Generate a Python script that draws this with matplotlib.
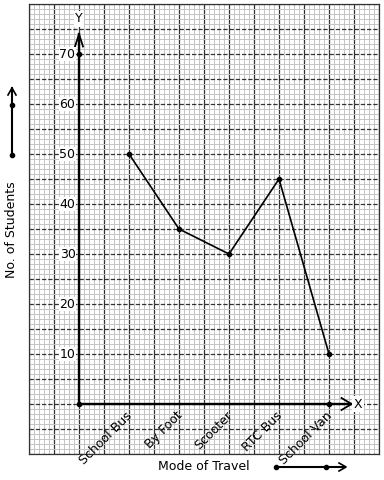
import numpy as np
import matplotlib
matplotlib.use('Agg')
import matplotlib.pyplot as plt

# data
modes = ['School Bus', 'By Foot', 'Scooter', 'RTC Bus', 'School Van']
students = [50, 35, 30, 45, 10]
y_ticks = [10, 20, 30, 40, 50, 60, 70]

fig = plt.figure(figsize=(3.84, 4.8), dpi=100)
W, H = 384, 480
ax = fig.add_axes([29 / W, 26 / H, 350 / W, 450 / H])
ax.set_xlim(-1, 6)
ax.set_ylim(-10, 80)

# graph paper
ax.set_xticks(np.arange(-1, 6.01, 0.5))
ax.set_xticks(np.arange(-1, 6.01, 0.1), minor=True)
ax.set_yticks(np.arange(-10, 80.1, 5))
ax.set_yticks(np.arange(-10, 80.1, 1), minor=True)
ax.grid(which='minor', color='#c4c4c4', lw=0.7)
ax.grid(which='major', axis='x', color='#333333', lw=0.9)
ax.grid(which='major', axis='y', color='#333333', lw=0.9, ls=(0, (3.5, 1.5)))
ax.tick_params(which='both', length=0, labelbottom=False, labelleft=False)
ax.set_axisbelow(True)
for s in ax.spines.values():
    s.set_color('#333333')
    s.set_linewidth(0.9)

# axes with arrow heads
ax.plot([0, 0], [0, 74], color='black', lw=1.7)
ax.plot([0, 5.45], [0, 0], color='black', lw=1.7)
ax.plot([-0.08, 0, 0.08], [71.5, 74, 71.5], color='black', lw=1.3)
ax.plot([5.25, 5.45, 5.25], [1.2, 0, -1.2], color='black', lw=1.3)
ax.plot([0, 0, 5], [70, 0, 0], 'o', color='black', ms=3)
ax.text(0, 77, 'Y', ha='center', va='center', fontsize=9,
        bbox=dict(fc='white', ec='none', pad=1))
ax.text(5.58, 0, 'X', ha='center', va='center', fontsize=9,
        bbox=dict(fc='white', ec='none', pad=1))

for v in y_ticks:
    ax.text(-0.07, v, str(v), ha='right', va='center', fontsize=9,
            bbox=dict(fc='white', ec='none', pad=0.5))

x = np.arange(1, len(modes) + 1)
ax.plot(x, students, color='black', lw=1.2, marker='o', ms=3)

for xi, m in zip(x, modes):
    ax.text(xi + 0.12, -1.0, m, rotation=45, ha='right', va='top', fontsize=9)

# axis titles with arrows
fig.text(204 / W, 1 - 466 / H, 'Mode of Travel', ha='center', va='center', fontsize=9)
fig.text(12 / W, 1 - 230 / H, 'No. of Students', ha='center', va='center',
         rotation=90, fontsize=9)

ov = fig.add_axes([0, 0, 1, 1], facecolor='none')
ov.set_xlim(0, W)
ov.set_ylim(H, 0)
ov.axis('off')
ov.plot([276, 345], [467, 467], color='black', lw=1.5)
ov.plot([339, 346, 339], [463, 467, 471], color='black', lw=1.2)
ov.plot([276, 326], [467, 467], 'o', color='black', ms=3)
ov.plot([12, 12], [155, 88], color='black', lw=1.5)
ov.plot([8, 12, 16], [95, 88, 95], color='black', lw=1.2)
ov.plot([12, 12], [155, 105], 'o', color='black', ms=3)

fig.savefig('out.png', dpi=100)
